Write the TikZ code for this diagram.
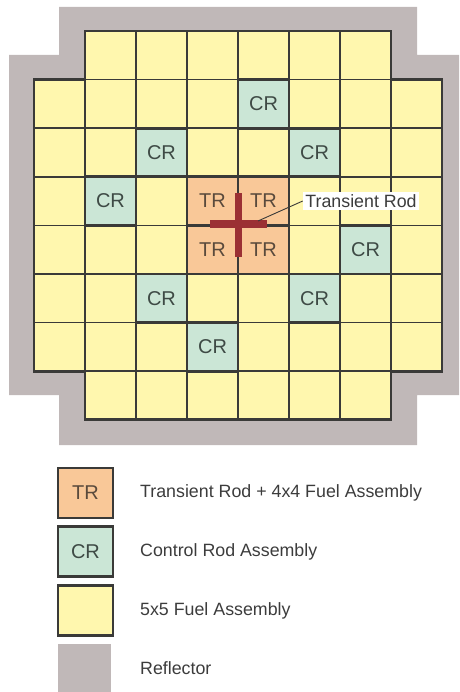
\documentclass[tikz,border=0pt]{standalone}
\usepackage{fontspec}
\setmainfont{Liberation Sans}
\definecolor{fuelc}{HTML}{FFF7AE}
\definecolor{crc}{HTML}{CBE6D6}
\definecolor{trc}{HTML}{F9C898}
\definecolor{reflc}{HTML}{C0B8B8}
\definecolor{linec}{HTML}{3A3A38}
\definecolor{rodc}{HTML}{9B3034}
\definecolor{crtext}{HTML}{3E4A45}
\definecolor{trtext}{HTML}{5A4A3C}
\definecolor{legtext}{HTML}{3C3C3C}
\tikzset{
  cellbase/.style={minimum width=51pt, minimum height=48.6pt, inner sep=0pt, outer sep=0pt, font=\fontsize{20}{20}\selectfont},
  fuelcell/.style={cellbase, fill=fuelc, draw=linec, line width=1.6pt},
  crcell/.style={cellbase, fill=crc, draw=linec, line width=2.8pt, text=crtext},
  trcell/.style={cellbase, fill=trc, draw=linec, line width=2.8pt, text=trtext},
  legbox/.style={minimum width=55pt, minimum height=50pt, inner sep=0pt, outer sep=0pt, draw=linec, line width=2.8pt, font=\fontsize{20}{20}\selectfont},
  legtxt/.style={anchor=west, inner sep=0pt, text=legtext, font=\fontsize{17.8}{17.8}\selectfont},
  reflector/.style={fill=reflc},
  rod/.style={fill=rodc},
  leader/.style={draw=linec, line width=0.9pt},
  callout/.style={fill=white, inner sep=2.5pt, text=legtext, font=\fontsize{17.8}{17.8}\selectfont}
}
\begin{document}
\begin{tikzpicture}[x=1pt,y=-1pt]
\useasboundingbox (0,0) rectangle (459,692);
% reflector
\fill[reflector] (59,7) -- (417,7) -- (417,55) -- (459,55) -- (459,395) -- (417,395) -- (417,445) -- (59,445) -- (59,395) -- (9,395) -- (9,55) -- (59,55) -- cycle;
% fuel cells
\foreach \r/\cols in {0/{1,2,3,4,5,6}, 1/{0,1,2,3,5,6,7}, 2/{0,1,3,4,6,7}, 3/{0,2,5,6,7}, 4/{0,1,2,5,7}, 5/{0,1,3,4,6,7}, 6/{0,1,2,4,5,6,7}, 7/{1,2,3,4,5,6}}
  \foreach \c in \cols
    \node[fuelcell] (f\r\c) at ({34+51*\c+25.5},{31+48.6*\r+24.3}) {};
% control rods
\foreach \r/\c in {1/4, 2/2, 2/5, 3/1, 4/6, 5/2, 5/5, 6/3}
  \node[crcell] (cr\r\c) at ({34+51*\c+25.5},{31+48.6*\r+24.3}) {CR};
% transient rod assemblies
\foreach \r/\c in {3/3, 3/4, 4/3, 4/4}
  \node[trcell] (tr\r\c) at ({34+51*\c+25.5},{31+48.6*\r+24.3}) {TR};
% outer boundary of core
\draw[linec, line width=2.8pt, line join=miter] (f01.north west) -- (f06.north east) -- (f16.north east) -- (f17.north east) -- (f67.south east) -- (f66.south east) -- (f76.south east) -- (f71.south west) -- (f61.south west) -- (f60.south west) -- (f10.north west) -- (f11.north west) -- cycle;
% transient rod cross
\fill[rod] (210,220.5) rectangle (267,228.5);
\fill[rod] (235,193) rectangle (242,257);
\coordinate (rodend) at (258,221);
\node[callout] (lbl) at (361,201) {Transient Rod};
\draw[leader] (rodend) -- (lbl.west);
% legend
\node[legbox, fill=trc, text=trtext] (ltr) at (85.5,493) {TR};
\node[legbox, fill=crc, text=crtext] (lcr) at (85.5,551.5) {CR};
\node[legbox, fill=fuelc] (lfuel) at (85.5,610.5) {};
\node[minimum width=53pt, minimum height=48pt, inner sep=0pt, fill=reflc] (lrefl) at (84.5,668) {};
\node[legtxt] (ttr) at (140,493) {Transient Rod + 4x4 Fuel Assembly};
\node[legtxt] (tcr) at (140,551.5) {Control Rod Assembly};
\node[legtxt] (tfuel) at (140,610.5) {5x5 Fuel Assembly};
\node[legtxt] (trefl) at (140,668) {Reflector};
\end{tikzpicture}
\end{document}
